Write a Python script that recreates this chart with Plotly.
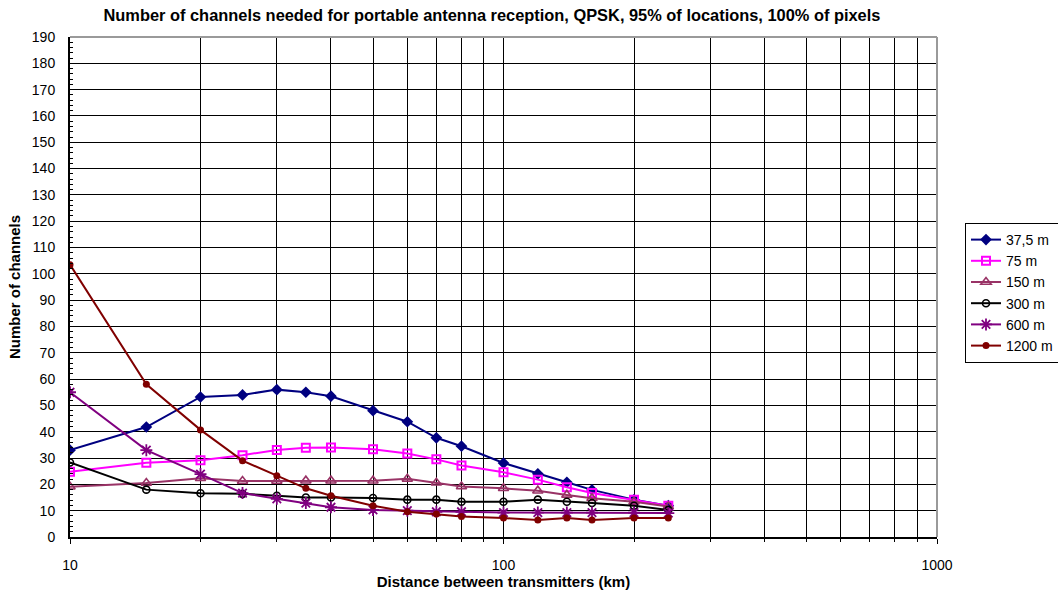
import plotly.graph_objects as go

# Distance between transmitters (km)
distance_km = [10, 15, 20, 25, 30, 35, 40, 50, 60, 70, 80, 100, 120, 140, 160, 200, 240]

# Number of channels per pixel size
ch_37_5 = [33.0, 41.8, 53.2, 54.0, 56.0, 55.0, 53.5, 48.0, 43.8, 37.7, 34.5, 28.1, 24.0, 20.8, 17.9, 14.2, 11.9]
ch_75 = [24.8, 28.2, 29.2, 31.1, 33.1, 33.9, 34.0, 33.3, 31.7, 29.5, 27.2, 24.6, 21.8, 18.9, 16.7, 14.2, 11.9]
ch_150 = [19.1, 20.5, 22.3, 21.3, 21.3, 21.4, 21.4, 21.4, 22.1, 20.6, 19.2, 18.5, 17.6, 16.0, 14.7, 13.4, 11.6]
ch_300 = [28.3, 18.0, 16.6, 16.4, 15.7, 15.0, 15.0, 14.8, 14.2, 14.2, 13.4, 13.4, 14.2, 13.4, 12.9, 11.9, 10.3]
ch_600 = [55.0, 33.0, 23.9, 16.7, 14.5, 12.9, 11.3, 10.3, 10.0, 9.6, 9.6, 9.3, 9.3, 9.3, 9.3, 9.3, 9.1]
ch_1200 = [103.5, 58.0, 40.7, 29.0, 23.3, 18.5, 15.7, 11.9, 9.6, 8.7, 7.8, 7.2, 6.5, 7.2, 6.5, 7.2, 7.2]

series_names = ["37,5 m", "75 m", "150 m", "300 m", "600 m", "1200 m"]
series_values = [ch_37_5, ch_75, ch_150, ch_300, ch_600, ch_1200]

styles = [
    dict(color="#000080", symbol="diamond", size=9, fill="#000080", lw=0),
    dict(color="#FF00FF", symbol="square-open", size=8, fill="#FF00FF", lw=2),
    dict(color="#993366", symbol="triangle-up-open", size=9, fill="#993366", lw=1.6),
    dict(color="#000000", symbol="circle-open", size=7, fill="#000000", lw=1.6),
    dict(color="#800080", symbol="asterisk-open", size=10, fill="#800080", lw=1.8),
    dict(color="#800000", symbol="circle", size=7, fill="#800000", lw=0),
]

FONT = "Arial, Liberation Sans, sans-serif"

fig = go.Figure()
for i, (name, vals, st) in enumerate(zip(series_names, series_values, styles)):
    fig.add_trace(go.Scatter(
        x=distance_km, y=vals, name=name, mode="lines+markers",
        legendgroup=f"g{i}",
        line=dict(color=st["color"], width=2),
        marker=dict(symbol=st["symbol"], size=st["size"], color=st["fill"],
                    line=dict(color=st["color"], width=st["lw"])),
    ))

fig.update_layout(
    width=1058, height=592,
    margin=dict(l=70, r=121, t=37, b=55),
    paper_bgcolor="white", plot_bgcolor="white",
    font=dict(family=FONT, size=14, color="#000000"),
    title=dict(
        text="<b>Number of channels needed for portable antenna reception, QPSK, 95% of locations, 100% of pixels</b>",
        x=0.465, xanchor="center", y=1 - 15.5 / 592, yanchor="middle",
        font=dict(family=FONT, size=16.4, color="#000000"),
    ),
    showlegend=True,
    legend=dict(
        xref="container", yref="container",
        x=965 / 1058, xanchor="left", y=1 - 223 / 592, yanchor="top",
        bordercolor="#000000", borderwidth=1, bgcolor="white",
        font=dict(family=FONT, size=14, color="#000000"),
        tracegroupgap=0, traceorder="grouped", itemwidth=30,
    ),
    xaxis=dict(
        type="log", range=[1, 3], automargin=False,
        tickvals=[10, 100, 1000], ticktext=["10", "100", "1000"],
        showgrid=True, gridcolor="#000000", gridwidth=1,
        showline=True, linecolor="#000000", linewidth=2,
        ticks="outside", ticklen=5, tickcolor="#000000", tickwidth=1,
        ticklabelstandoff=9,
        minor=dict(dtick="D1", showgrid=True, gridcolor="#000000", gridwidth=1,
                   ticks="outside", ticklen=3, tickcolor="#000000"),
        zeroline=False,
        tickfont=dict(family=FONT, size=14),
        title=dict(text="<b>Distance between transmitters (km)</b>", standoff=4,
                   font=dict(family=FONT, size=15)),
    ),
    yaxis=dict(
        range=[0, 190], dtick=10, tick0=0, automargin=False,
        showgrid=True, gridcolor="#000000", gridwidth=1,
        showline=True, linecolor="#000000", linewidth=2,
        ticks="inside", ticklen=4, tickcolor="#000000",
        ticklabelstandoff=10,
        minor=dict(dtick=2, ticks="inside", ticklen=3, tickcolor="#000000", showgrid=False),
        zeroline=False,
        tickfont=dict(family=FONT, size=14),
        title=dict(text="<b>Number of channels</b>", standoff=8,
                   font=dict(family=FONT, size=15)),
    ),
)

# Grey frame along the top and right edges of the plotting area
fig.add_shape(type="line", xref="paper", yref="paper", x0=0, x1=1, y0=1, y1=1,
              line=dict(color="#9a9a9a", width=2), layer="above")
fig.add_shape(type="line", xref="paper", yref="paper", x0=1, x1=1, y0=0, y1=1,
              line=dict(color="#9a9a9a", width=2), layer="above")

fig.write_html("out.html")
